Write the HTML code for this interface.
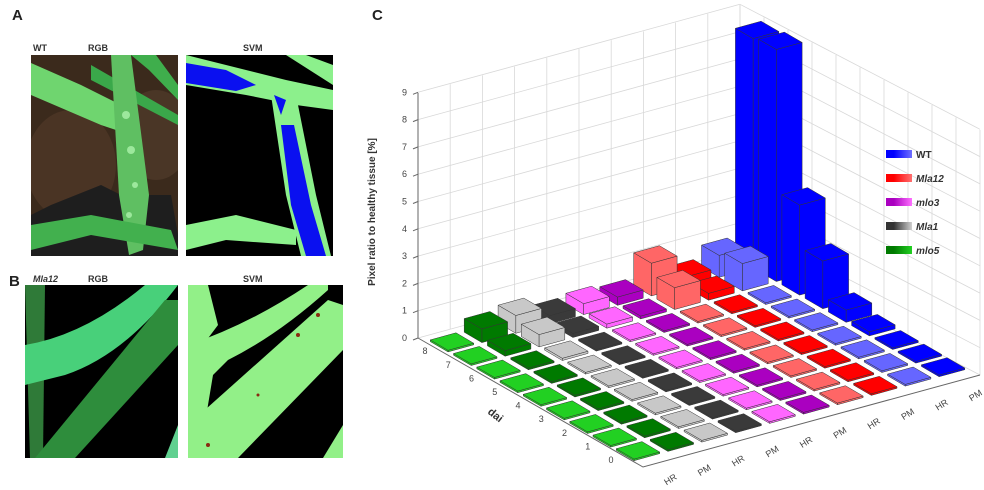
<!DOCTYPE html>
<html><head><meta charset="utf-8">
<style>
html,body{margin:0;padding:0;background:#fff;}
body{width:984px;height:490px;overflow:hidden;position:relative;font-family:"Liberation Sans",Arial,sans-serif;}
svg{position:absolute;left:0;top:0;}
</style></head>
<body>
<svg id="s" width="984" height="490" viewBox="0 0 984 490" xmlns="http://www.w3.org/2000/svg" font-family="Liberation Sans, Arial, sans-serif">
<rect width="984" height="490" fill="#fff"/>
<text x="12" y="20" font-size="15" font-weight="bold" fill="#222">A</text>
<text x="9" y="286" font-size="15" font-weight="bold" fill="#222">B</text>
<text x="372" y="20" font-size="15" font-weight="bold" fill="#222">C</text>
<text x="33" y="51" font-size="9" font-weight="bold" fill="#333">WT</text>
<text x="88" y="51" font-size="9" font-weight="bold" fill="#333">RGB</text>
<text x="243" y="51" font-size="9" font-weight="bold" fill="#333">SVM</text>
<text x="33" y="282" font-size="9" font-weight="bold" font-style="italic" fill="#333">Mla12</text>
<text x="88" y="282" font-size="9" font-weight="bold" fill="#333">RGB</text>
<text x="243" y="282" font-size="9" font-weight="bold" fill="#333">SVM</text>

<svg x="31" y="55" width="147" height="201" viewBox="0 0 147 201">
<rect width="147" height="201" fill="#3b2a1c"/>
<ellipse cx="40" cy="110" rx="45" ry="55" fill="#4a3424"/>
<ellipse cx="125" cy="80" rx="35" ry="45" fill="#4a3626"/>
<path d="M20 150 L70 130 L90 140 L140 140 L147 180 L147 201 L0 201 L0 160Z" fill="#1e1e1e"/>
<path d="M0 8 L0 40 L70 70 L100 80 L100 55 L50 30Z" fill="#6fd56f"/>
<path d="M60 10 L147 60 L147 70 L60 25Z" fill="#3aa84a"/>
<path d="M100 0 L125 0 L147 30 L147 45 L118 15Z" fill="#3fae4c"/>
<path d="M80 0 L100 0 L118 140 L112 195 L98 200 L88 140Z" fill="#5fbf62"/>
<circle cx="95" cy="60" r="4" fill="#9ce89c"/><circle cx="100" cy="95" r="4" fill="#9ce89c"/><circle cx="104" cy="130" r="3" fill="#9ce89c"/><circle cx="98" cy="160" r="3" fill="#9ce89c"/>
<path d="M0 170 L60 160 L140 175 L147 195 L60 180 L0 195Z" fill="#42b04e"/>
</svg>
<svg x="186" y="55" width="147" height="201" viewBox="0 0 147 201">
<rect width="147" height="201" fill="#000"/>
<path d="M0 0 L0 30 L60 40 L110 50 L147 55 L147 35 L100 25 L40 10Z" fill="#8cf08c"/>
<path d="M0 8 L0 28 L50 36 L70 30 L40 15Z" fill="#0a10f0"/>
<path d="M80 0 L100 0 L147 30 L147 10 L120 0Z" fill="#8cf08c"/>
<path d="M85 40 L110 40 L130 140 L145 201 L115 201 L100 140Z" fill="#8cf08c"/>
<path d="M95 70 L108 70 L125 150 L140 201 L120 201 L105 150Z" fill="#0a10f0"/>
<path d="M88 40 L100 45 L95 60Z" fill="#0a10f0"/>
<path d="M0 170 L50 160 L110 175 L110 190 L40 185 L0 195Z" fill="#8cf08c"/>
</svg>
<svg x="25" y="285" width="153" height="173" viewBox="0 0 153 173">
<rect width="153" height="173" fill="#000"/>
<path d="M0 0 L20 0 L18 173 L5 173 Z" fill="#2f7a38"/>
<path d="M0 60 Q60 50 120 0 L153 0 Q100 70 40 90 L0 100Z" fill="#48d07a"/>
<path d="M10 173 L50 173 L153 60 L153 15 L140 15Z" fill="#2e8d3c"/>
<path d="M140 173 L153 140 L153 173Z" fill="#60d090"/>
</svg>
<svg x="188" y="285" width="155" height="173" viewBox="0 0 155 173">
<rect width="155" height="173" fill="#000"/>
<path d="M0 0 L20 0 L30 40 L15 60 L0 60Z" fill="#92f088"/>
<path d="M0 60 Q60 40 120 0 L140 0 L140 5 Q90 50 40 75 L25 90 L15 150 L0 160Z" fill="#92f088"/>
<path d="M0 173 L50 173 L155 65 L155 20 L140 15 L0 140Z" fill="#92f088"/>
<path d="M135 173 L155 140 L155 173Z" fill="#92f088"/>
<circle cx="110" cy="50" r="2" fill="#8a2a10"/><circle cx="130" cy="30" r="2" fill="#8a2a10"/><circle cx="20" cy="160" r="2" fill="#8a2a10"/><circle cx="70" cy="110" r="1.5" fill="#8a2a10"/>
</svg>

<g id="chart"></g>
</svg>
<script>
(function(){
var NS="http://www.w3.org/2000/svg",g=document.getElementById("chart");
function el(t,a,txt){var e=document.createElementNS(NS,t);for(var k in a)e.setAttribute(k,a[k]);if(txt!=null)e.textContent=txt;g.appendChild(e);return e;}
var ZS=27.3;
var L=[418,338],B=[740,250],R=[980,375],F=[643,467],H=245;
function lerp(a,b,t){return [a[0]+(b[0]-a[0])*t,a[1]+(b[1]-a[1])*t];}
var gc="#d8d8d8";
for(var i=0;i<=10;i++){var p=lerp(L,B,i/10);el("line",{x1:p[0],y1:p[1],x2:p[0],y2:p[1]-H,stroke:gc,"stroke-width":0.8});}
for(var z=0;z<=9;z++){el("line",{x1:L[0],y1:L[1]-z*ZS,x2:B[0],y2:B[1]-z*ZS,stroke:gc,"stroke-width":0.8});}
for(var i=0;i<=10;i++){var p=lerp(B,R,i/10);el("line",{x1:p[0],y1:p[1],x2:p[0],y2:p[1]-H,stroke:gc,"stroke-width":0.8});}
for(var z=0;z<=9;z++){el("line",{x1:B[0],y1:B[1]-z*ZS,x2:R[0],y2:R[1]-z*ZS,stroke:gc,"stroke-width":0.8});}
el("line",{x1:L[0],y1:L[1],x2:L[0],y2:L[1]-H,stroke:"#666","stroke-width":1});
el("polyline",{points:L.join(",")+" "+F.join(",")+" "+R.join(","),fill:"none",stroke:"#666","stroke-width":1});
for(var z=0;z<=9;z++){var y=L[1]-z*ZS;el("line",{x1:L[0]-5,y1:y+2,x2:L[0],y2:y,stroke:"#666"});el("text",{x:L[0]-11,y:y+3,"font-size":9,fill:"#444","text-anchor":"end"},z);}
el("text",{x:0,y:0,"font-size":10,"font-weight":"bold",fill:"#333","text-anchor":"middle",transform:"translate(375,212) rotate(-90)"},"Pixel ratio to healthy tissue [%]");
function P(u,v,z){return [638+33.9*u-23.25*v,452-9.33*u-13.6*v-ZS*z];}
for(var v=0;v<=8;v++){var c=P(0,v,0);el("text",{x:c[0]-27,y:c[1]+11,"font-size":9,fill:"#444","text-anchor":"middle"},v);}
el("text",{x:0,y:0,"font-size":11,"font-weight":"bold",fill:"#333",transform:"translate(487,413) rotate(38)"},"dai");
var labs=["HR","PM"];
for(var u=0;u<10;u++){var c=P(u,0,0);el("text",{x:0,y:0,"font-size":9,fill:"#444","text-anchor":"middle",transform:"translate("+(c[0]+34)+","+(c[1]+30)+") rotate(-32)"},labs[u%2]);}
var cols=["#22d022","#007a00","#c8c8c8","#3a3a3a","#ff66ff","#aa00c0","#ff6666","#ff0000","#6666ff","#0000ff"];
var hts={};
function sh(u,arr){for(var i=0;i<arr.length;i++)hts[u+","+(8-i)]=arr[i];}
sh(1,[0.5,0.2]);sh(2,[0.65,0.45,0.08]);sh(3,[0.3,0.15]);sh(4,[0.4,0.15]);sh(5,[0.3,0.1]);
sh(6,[1.2,0.8]);sh(7,[0.35,0.25]);sh(8,[0.8,1.0]);sh(9,[8.4,8.5,3.3,1.75,0.45,0.15]);
var list=[];for(var u=0;u<10;u++)for(var v=0;v<9;v++)list.push([u,v]);
list.sort(function(a,b){return (b[0]+b[1]*1.3)-(a[0]+a[1]*1.3);});
var h=0.38;
function poly(pts,f){el("polygon",{points:pts.map(function(p){return p[0].toFixed(1)+","+p[1].toFixed(1);}).join(" "),fill:f,stroke:"#333","stroke-width":0.5,"stroke-linejoin":"round"});}
list.forEach(function(q){var u=q[0],v=q[1],z=hts[u+","+v]||0.06;if(z<0.06)z=0.06;var c=cols[u];
poly([P(u-h,v-h,0),P(u+h,v-h,0),P(u+h,v-h,z),P(u-h,v-h,z)],c);
poly([P(u-h,v-h,0),P(u-h,v+h,0),P(u-h,v+h,z),P(u-h,v-h,z)],c);
poly([P(u-h,v-h,z),P(u+h,v-h,z),P(u+h,v+h,z),P(u-h,v+h,z)],c);});
var lg=[["WT","#0000ff","#7070ff",false],["Mla12","#ff0000","#ff7070",true],["mlo3","#aa00c0","#ff70ff",true],["Mla1","#333","#d0d0d0",true],["mlo5","#007a00","#22d022",true]];
var defs=document.createElementNS(NS,"defs");g.appendChild(defs);
lg.forEach(function(l,i){var y=155+i*24;var id="lg"+i;
var gr=document.createElementNS(NS,"linearGradient");gr.setAttribute("id",id);
var s1=document.createElementNS(NS,"stop");s1.setAttribute("offset","0.3");s1.setAttribute("stop-color",l[1]);
var s2=document.createElementNS(NS,"stop");s2.setAttribute("offset","1");s2.setAttribute("stop-color",l[2]);
gr.appendChild(s1);gr.appendChild(s2);defs.appendChild(gr);
el("rect",{x:886,y:y-5,width:26,height:8,fill:"url(#"+id+")"});
var t=el("text",{x:916,y:y+3,"font-size":10,"font-weight":"bold",fill:"#333"},l[0]);if(l[3])t.setAttribute("font-style","italic");});
})();
</script>
</body></html>
